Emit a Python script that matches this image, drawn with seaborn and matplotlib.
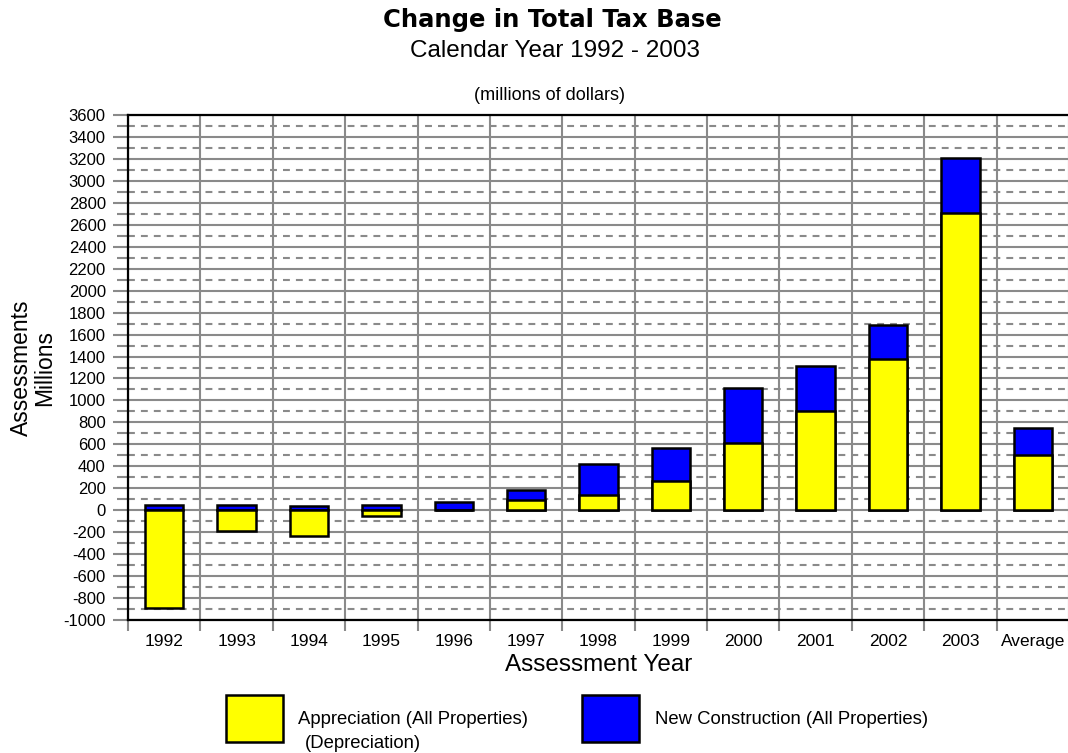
"""Change in total tax base, stacked bar chart."""

import matplotlib
matplotlib.use('Agg')
import matplotlib.pyplot as plt
import numpy as np
import pandas as pd
import seaborn as sns
from matplotlib.patches import Rectangle

years = ['1992', '1993', '1994', '1995', '1996', '1997', '1998',
         '1999', '2000', '2001', '2002', '2003', 'Average']
appreciation = [-895, -185, -235, -55, 5, 90, 135, 265, 610, 905, 1380, 2705, 500]
new_construction = [50, 50, 35, 50, 70, 95, 285, 300, 505, 410, 305, 500, 250]

yellow = '#ffff00'
blue = '#0000ff'
grid_gray = '#8a8a8a'

plt.rcParams['font.family'] = ['Liberation Sans', 'DejaVu Sans']
plt.rcParams['axes.unicode_minus'] = False

df = pd.DataFrame({
    'Year': years,
    'Appreciation': appreciation,
    'New Construction': new_construction})
# blue sits on top of positive appreciation, from zero when it is negative
df['Top'] = df['Appreciation'].clip(lower = 0) + df['New Construction']

W, H = 1068, 753
fig = plt.figure(figsize = (W / 100, H / 100), dpi = 100)
ax = fig.add_axes([128 / W, 1 - 620 / H, 941 / W, 505 / H])

bar_kws = dict(
    x = 'Year', order = years, saturation = 1, edgecolor = 'black',
    linewidth = 1.8, width = 0.53, errorbar = None, ax = ax)
sns.barplot(data = df, y = 'Top', color = blue, **bar_kws)
sns.barplot(data = df, y = 'Appreciation', color = yellow, **bar_kws)

ax.set_xlim(-0.5, len(years) - 0.5)
ax.set_ylim(-1000, 3600)

# category boundaries carry the vertical grid, labels sit on minor ticks
ax.set_xticks(np.arange(len(years) + 1) - 0.5)
ax.set_xticklabels([])
ax.set_xticks(np.arange(len(years)), labels = years, minor = True)
ax.tick_params(axis = 'x', which = 'major', length = 8, color = grid_gray, width = 1.5)
ax.tick_params(axis = 'x', which = 'minor', length = 0, pad = 10, labelsize = 12.5)

ax.set_yticks(np.arange(-1000, 3601, 200))
ax.set_yticks(np.arange(-900, 3600, 200), minor = True)
ax.tick_params(axis = 'y', which = 'major', length = 11, color = grid_gray,
               width = 1.5, labelsize = 12, pad = 5)
ax.tick_params(axis = 'y', which = 'minor', length = 8, color = grid_gray, width = 1.5)

ax.grid(True, axis = 'x', which = 'major', color = grid_gray, linewidth = 1.5)
ax.grid(True, axis = 'y', which = 'major', color = grid_gray, linewidth = 1.5)
ax.grid(True, axis = 'y', which = 'minor', color = grid_gray, linewidth = 1.5,
        linestyle = (0, (3.3, 2.9)))
ax.set_axisbelow(True)

for side in ['left', 'bottom', 'top']:
    ax.spines[side].set_color('black')
    ax.spines[side].set_linewidth(1.6)
ax.spines['right'].set_visible(False)

ax.set_xlabel('Assessment Year', fontsize = 17.5)
ax.xaxis.set_label_coords(0.5, -0.067)
ax.xaxis.label.set_va('top')
ax.set_ylabel('Assessments\nMillions', fontsize = 16.5, linespacing = 1.05)
ax.yaxis.set_label_coords(-0.076, 0.5)

fig.text(552 / W, 1 - 20 / H, 'Change in Total Tax Base', ha = 'center',
         va = 'center', fontsize = 17.5, fontweight = 'bold', family = 'DejaVu Sans')
fig.text(555 / W, 1 - 51 / H, 'Calendar Year 1992 - 2003', ha = 'center',
         va = 'center', fontsize = 17.5)
fig.text(549 / W, 1 - 95 / H, '(millions of dollars)', ha = 'center',
         va = 'center', fontsize = 13)

# legend boxes
for x0, color in [(226, yellow), (582, blue)]:
    fig.add_artist(Rectangle(
        (x0 / W, 1 - 742 / H), 57 / W, 47 / H, transform = fig.transFigure,
        facecolor = color, edgecolor = 'black', linewidth = 1.8))
fig.text(298 / W, 1 - 720 / H, 'Appreciation (All Properties)', va = 'center', fontsize = 13.3)
fig.text(305 / W, 1 - 743 / H, '(Depreciation)', va = 'center', fontsize = 13.3)
fig.text(655 / W, 1 - 719 / H, 'New Construction (All Properties)', va = 'center', fontsize = 13.3)

fig.savefig('out.png', dpi = 100)
